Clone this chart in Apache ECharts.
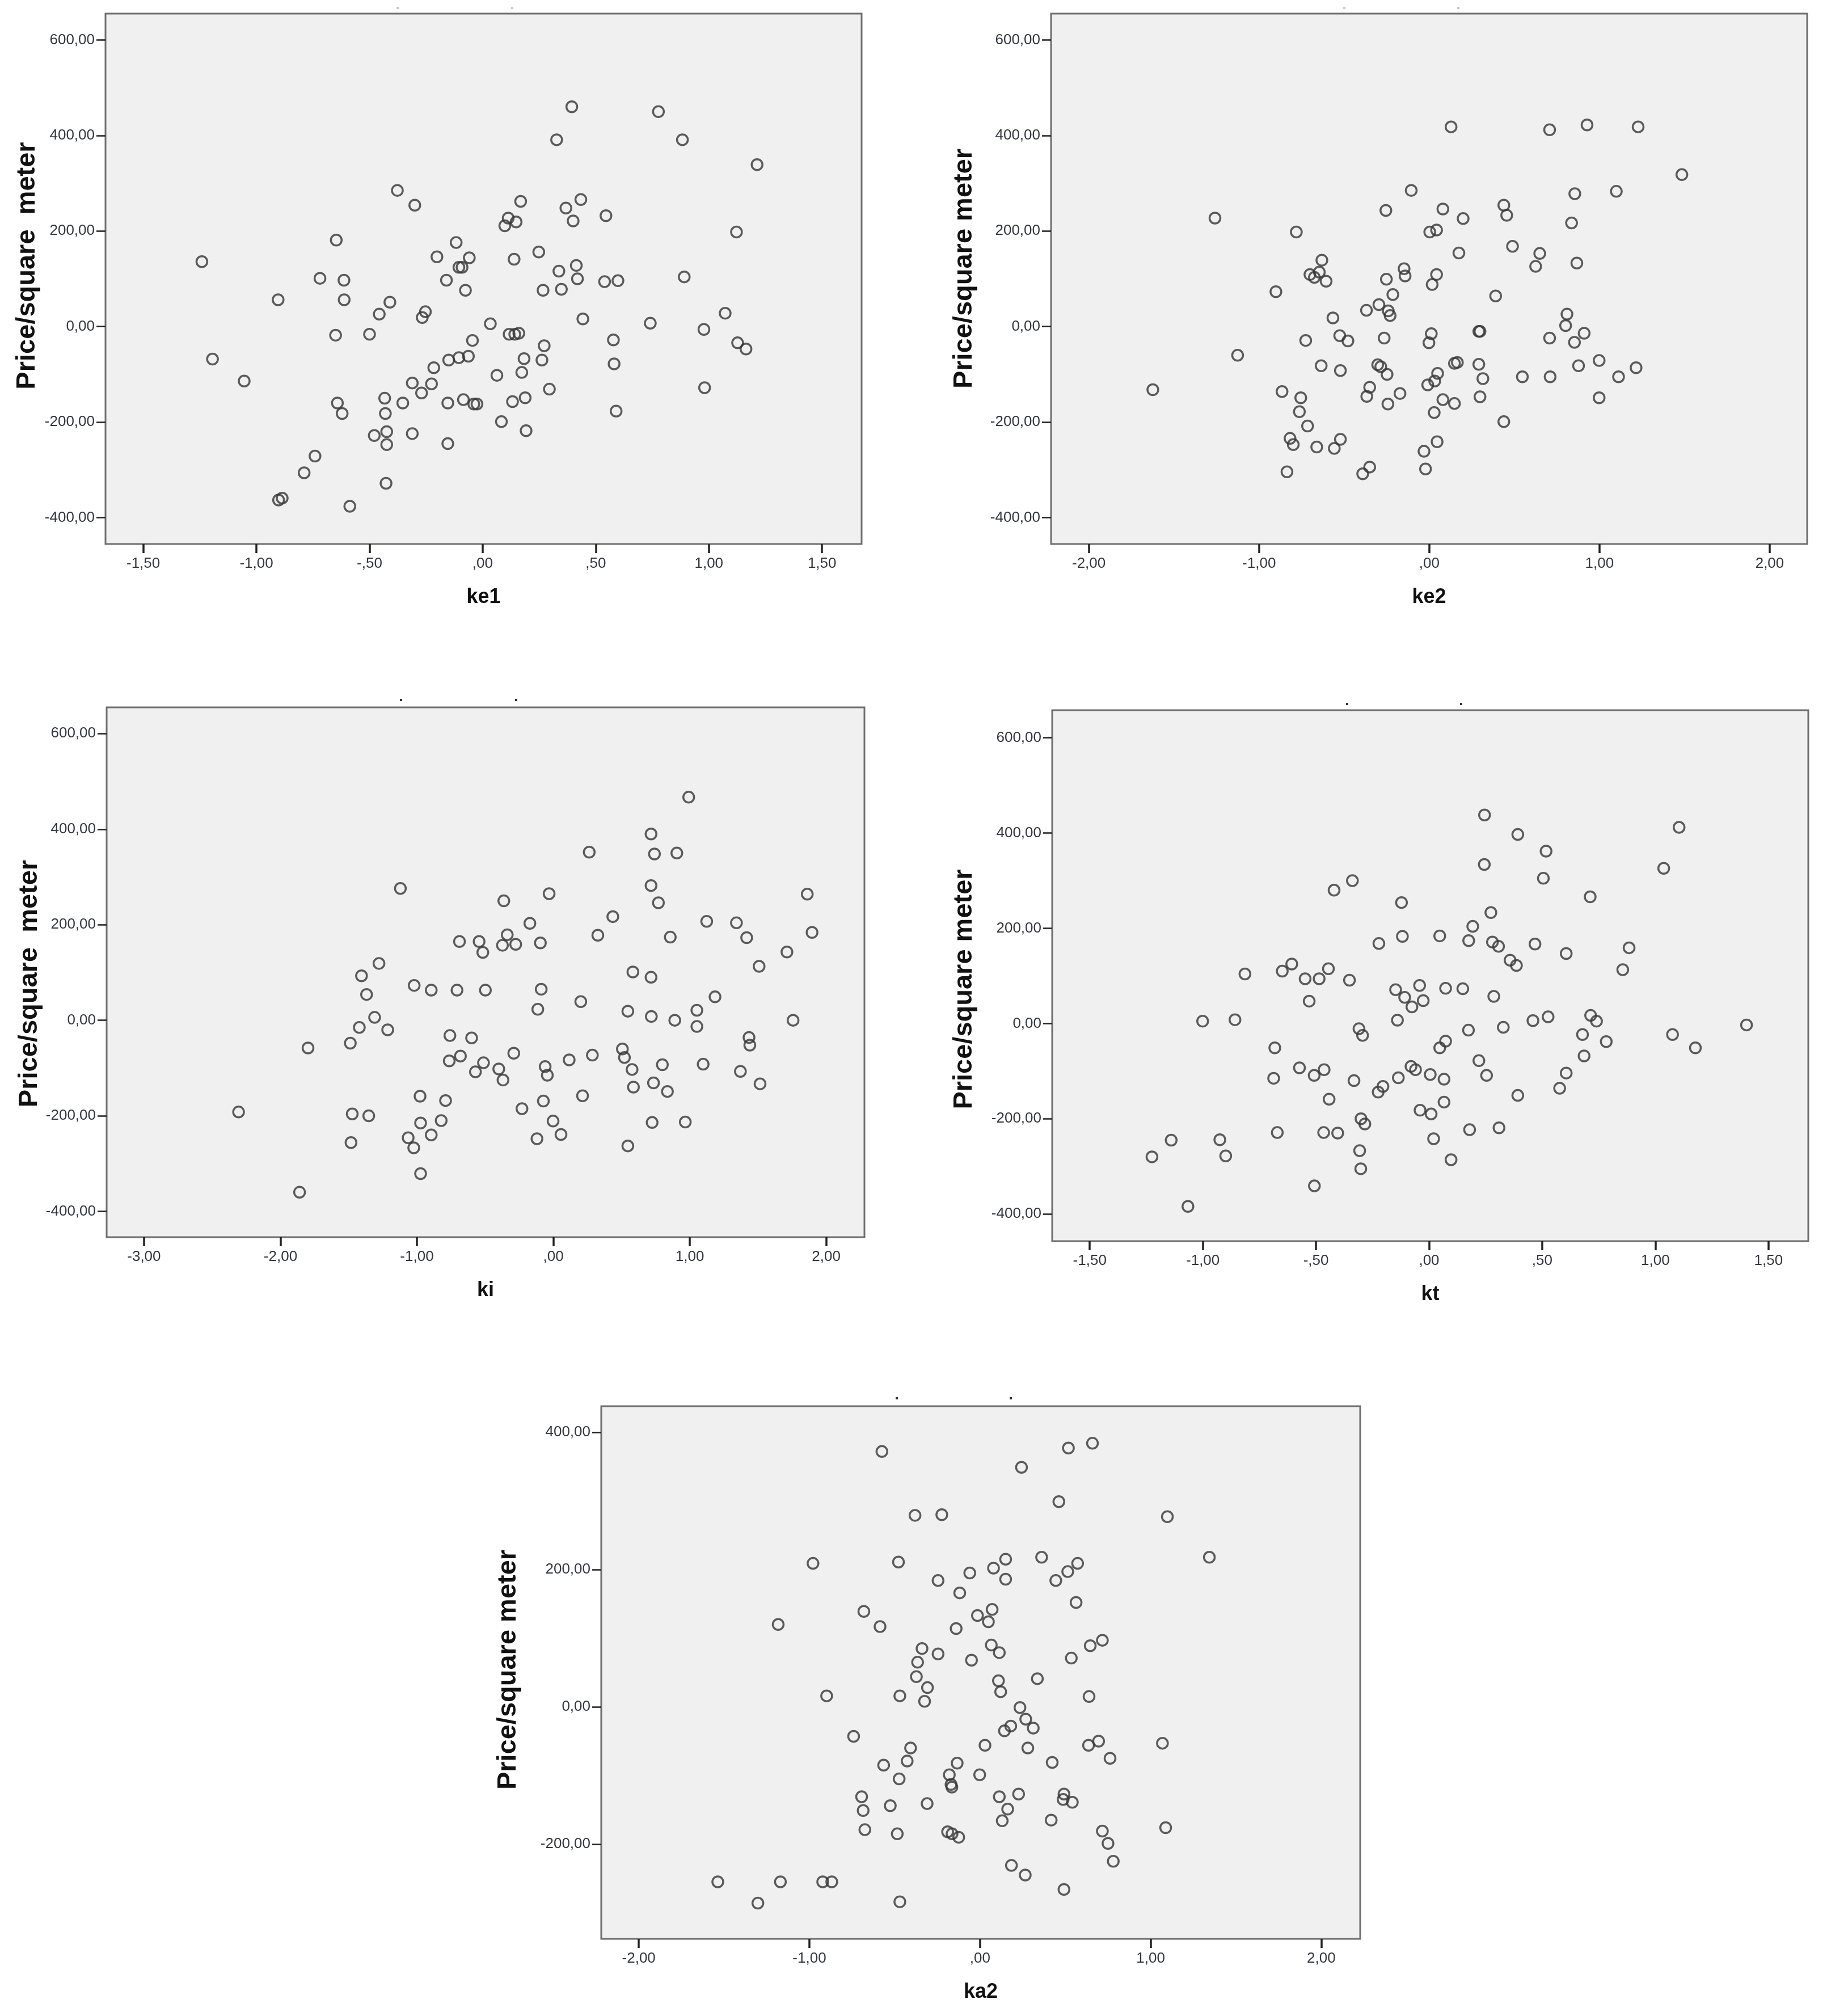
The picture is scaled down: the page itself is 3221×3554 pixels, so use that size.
<!DOCTYPE html>
<html>
<head>
<meta charset="utf-8">
<script src="https://cdn.jsdelivr.net/npm/echarts@6/dist/echarts.min.js"></script>
<style>
    html, body { margin: 0; padding: 0; background: #ffffff; }
    #main { width: 3221px; height: 3554px; }
</style>
</head>
<body>
<div id="main"></div>
<script>
// ke1
var ke1X = [-1.241,-1.194,-1.054,-0.904,-0.902,-0.886,-0.789,-0.741,-0.719,-0.647,-0.650,-0.613,-0.612,-0.642,-0.621,-0.587,-0.500,-0.479,-0.457,-0.410,
    -0.433,-0.430,-0.424,-0.424,-0.427,-0.377,-0.353,-0.300,-0.311,-0.311,-0.270,-0.267,-0.253,-0.226,-0.216,-0.202,-0.160,-0.154,-0.150,-0.154,
    -0.117,-0.105,-0.091,-0.105,-0.063,-0.059,-0.076,-0.045,-0.085,-0.039,-0.025,
    0.034,0.063,0.083,0.098,0.113,0.148,0.168,0.139,0.117,0.142,0.160,0.132,0.183,0.173,0.188,0.192,0.248,0.267,0.272,0.262,
    0.295,0.327,0.337,0.348,0.368,0.394,0.400,0.414,0.419,0.434,0.443,0.545,0.539,0.598,0.578,0.581,0.590,0.741,0.777,0.883,
    0.891,0.978,0.981,1.072,1.122,1.127,1.164,1.213];
var ke1Y = [136,-68,-114,56,-363,-359,-306,-271,101,181,-18,97,56,-160,-182,-376,-16,-228,26,51,
    -150,-182,-220,-247,-328,285,-160,254,-118,-224,-139,19,31,-120,-86,146,97,-245,-70,-160,
    176,124,124,-65,-62,144,76,-29,-153,-162,-162,
    6,-102,-199,211,227,219,262,141,-16,-16,-14,-157,-67,-96,-149,-218,156,76,-40,-70,
    -131,391,116,78,248,460,221,128,100,266,16,232,94,96,-28,-78,-177,7,450,391,
    104,-6,-128,28,198,-34,-47,339];

// ke2
var ke2X = [-1.624,-1.259,-1.126,-0.901,-0.865,-0.836,-0.818,-0.799,-0.781,-0.755,-0.763,-0.726,-0.715,-0.701,-0.675,-0.646,-0.631,-0.606,-0.661,-0.635,
    -0.566,-0.526,-0.478,-0.522,-0.558,-0.522,-0.391,-0.350,-0.369,-0.350,-0.367,-0.296,-0.303,-0.285,-0.255,-0.252,-0.214,-0.241,-0.230,-0.265,
    -0.248,-0.243,-0.172,-0.148,-0.142,-0.106,
    0.003,0.043,0.017,0.043,0.080,0.128,0.174,0.199,0.012,-0.002,-0.009,0.032,0.049,0.029,0.080,0.148,-0.031,0.046,-0.022,0.148,
    0.165,0.291,0.298,0.291,0.315,0.298,0.390,0.438,0.455,0.489,0.438,0.547,0.625,0.649,0.707,0.707,0.710,0.809,0.801,0.836,
    0.855,0.867,0.853,0.910,0.877,0.927,0.998,0.998,1.099,1.112,1.215,1.227,1.484];
var ke2Y = [-132,227,-60,73,-136,-304,-234,-247,198,-149,-178,-29,-208,109,103,114,139,95,-252,-82,
    18,-19,-30,-92,-255,-236,-308,-294,34,-127,-146,46,-80,-84,243,99,67,33,23,-24,
    -100,-162,-140,121,106,285,
    198,202,88,109,246,418,154,226,-15,-34,-122,-114,-98,-180,-153,-161,-261,-241,-298,-77,
    -75,-10,-10,-79,-109,-147,64,254,233,168,-199,-105,126,153,412,-24,-105,26,2,217,
    278,133,-33,-14,-82,422,-71,-149,283,-105,-86,418,318];

// ki
var kiX = [-2.307,-1.860,-1.798,-1.488,-1.474,-1.483,-1.422,-1.406,-1.369,-1.353,-1.310,-1.278,-1.214,-1.121,-1.064,-1.023,-1.020,-0.977,-0.973,-0.973,
    -0.895,-0.895,-0.822,-0.790,-0.758,-0.763,-0.706,-0.688,-0.681,-0.599,-0.571,-0.544,-0.517,-0.512,-0.498,
    -0.400,-0.369,-0.363,-0.373,-0.338,-0.276,-0.290,-0.230,-0.172,-0.120,-0.114,-0.095,-0.089,-0.073,-0.060,-0.044,-0.031,-0.002,0.056,0.116,
    0.201,0.214,0.263,0.286,0.326,0.436,0.506,0.521,0.546,0.546,0.577,0.583,0.587,0.716,0.716,0.716,0.718,0.724,0.734,0.741,
    0.770,0.799,0.836,0.857,0.890,0.905,0.967,0.992,1.052,1.052,1.098,1.124,1.185,1.342,1.371,1.417,1.434,1.440,1.508,1.515,
    1.712,1.757,1.861,1.896];
var kiY = [-192,-360,-58,-48,-196,-256,-15,93,54,-200,6,119,-20,276,-246,-267,73,-159,-215,-321,
    63,-240,-210,-168,-32,-85,63,165,-75,-37,-108,165,142,-89,63,
    -102,-125,250,157,179,159,-69,-185,203,-248,23,162,65,-169,-97,-115,265,-211,-239,-83,
    39,-158,352,-73,178,217,-60,-78,19,-263,-103,101,-140,390,282,90,8,-214,-131,348,
    246,-93,-149,174,0,350,-213,467,21,-13,-92,207,49,204,-107,173,-36,-52,113,-133,
    143,0,264,184];

// kt
var ktX = [-1.225,-1.140,-1.066,-1.001,-0.925,-0.899,-0.858,-0.814,-0.682,-0.687,-0.671,-0.649,-0.607,-0.573,-0.548,-0.530,-0.508,-0.464,-0.486,-0.445,
    -0.442,-0.507,-0.466,-0.420,-0.404,-0.352,-0.339,-0.332,-0.310,-0.294,-0.301,-0.284,-0.307,-0.302,-0.225,-0.204,-0.222,-0.148,-0.140,-0.136,
    -0.122,-0.118,-0.108,-0.080,-0.060,-0.076,
    -0.042,-0.040,-0.026,0.005,0.009,0.020,0.047,0.047,0.073,0.066,0.066,0.073,0.097,0.149,0.175,0.174,0.179,0.193,0.220,0.245,
    0.244,0.254,0.273,0.280,0.307,0.286,0.309,0.328,0.358,0.386,0.392,0.392,0.459,0.468,0.505,0.517,0.526,0.577,0.606,0.606,
    0.678,0.685,0.712,0.714,0.740,0.783,0.856,0.884,1.037,1.076,1.105,1.177,1.403];
var ktY = [-280,-245,-384,5,-244,-278,8,104,-51,-115,-229,110,125,-93,94,47,-109,-97,94,115,
    -159,-341,-229,280,-230,91,300,-120,-11,-25,-200,-211,-267,-305,-144,-132,168,71,7,-114,
    254,183,55,-90,-97,35,
    80,-182,48,-107,-190,-242,184,-51,-37,-117,-165,74,-286,73,174,-14,-223,204,-78,438,
    334,-109,233,171,162,57,-219,-8,133,122,397,-151,6,167,305,362,14,-136,-104,147,
    -23,-68,266,17,5,-38,113,159,326,-23,412,-51,-3];

// ka2
var ka2X = [-1.537,-1.302,-1.183,-1.170,-0.979,-0.922,-0.869,-0.899,-0.741,-0.694,-0.685,-0.675,-0.681,-0.586,-0.575,-0.565,-0.526,-0.485,-0.478,-0.474,
    -0.470,-0.470,-0.427,-0.407,-0.381,-0.373,-0.366,-0.340,-0.325,-0.308,-0.310,-0.246,-0.246,-0.224,-0.190,-0.164,-0.180,-0.170,-0.165,-0.140,
    -0.134,-0.125,-0.119,-0.060,-0.050,-0.015,
    0.049,0.071,0.079,0.150,0.150,0.066,0.113,0.108,0.121,-0.002,0.029,0.113,0.130,0.162,0.143,0.180,0.184,0.226,0.234,0.243,
    0.265,0.268,0.280,0.312,0.336,0.361,0.417,0.423,0.444,0.462,0.492,0.487,0.492,0.514,0.518,0.535,0.541,0.563,0.572,0.636,
    0.695,0.639,0.646,0.717,0.659,0.717,0.750,0.762,0.781,1.069,1.088,1.098,1.344];
var ka2Y = [-255,-286,120,-255,209,-255,-255,16,-43,-131,-151,-179,139,117,372,-85,-144,-185,211,-105,
    16,-284,-79,-60,279,44,65,85,8,28,-141,184,77,280,-182,-185,-99,-113,-117,114,
    -82,-190,166,195,68,133,
    124,142,202,215,186,90,79,38,22,-99,-56,-131,-166,-149,-35,-28,-231,-127,-1,349,
    -245,-18,-60,-31,41,218,-165,-81,184,299,-127,-135,-266,197,377,71,-139,152,209,-56,
    -50,15,89,97,384,-181,-199,-75,-225,-53,-176,277,218];

// tick values
var xTicksHalf = [-1.5, -1, -0.5, 0, 0.5, 1, 1.5];
var xTicksTwo = [-2, -1, 0, 1, 2];
var xTicksKi = [-3, -2, -1, 0, 1, 2];
var yTicksPrice = [-400, -200, 0, 200, 400, 600];
var yTicksKa2 = [-200, 0, 200, 400];

function fmtX(v) {
    var s = Math.abs(v).toFixed(2).replace('.', ',');
    if (Math.abs(v) < 1) s = s.replace(/^0/, '');
    return (v < 0 ? '-' : '') + s;
}
function fmtY(v) {
    return v.toFixed(2).replace('.', ',');
}
function zip(xs, ys) {
    var out = [];
    for (var i = 0; i < xs.length; i++) out.push([xs[i], ys[i]]);
    return out;
}

// yPad: shifts the rotated y title along the axis (left = up, right = down)
var panels = [
    {xs: ke1X, ys: ke1Y, xName: 'ke1', yName: 'Price/square  meter', grid: {left: 186, top: 24, width: 1333, height: 935},
        xMin: -1.667, xMax: 1.675, xTicks: xTicksHalf, yMin: -455, yMax: 655, yTicks: yTicksPrice, yGap: 114, yPad: [0, 0, 0, 46]},
    {xs: ke2X, ys: ke2Y, xName: 'ke2', yName: 'Price/square meter', grid: {left: 1853, top: 24, width: 1333, height: 935},
        xMin: -2.222, xMax: 2.22, xTicks: xTicksTwo, yMin: -455, yMax: 655, yTicks: yTicksPrice, yGap: 129, yPad: [0, 0, 0, 36]},
    {xs: kiX, ys: kiY, xName: 'ki', yName: 'Price/square  meter', grid: {left: 188, top: 1247, width: 1336, height: 934},
        xMin: -3.274, xMax: 2.28, xTicks: xTicksKi, yMin: -454, yMax: 655, yTicks: yTicksPrice, yGap: 112, yPad: [0, 40, 0, 0]},
    {xs: ktX, ys: ktY, xName: 'kt', yName: 'Price/square meter', grid: {left: 1855, top: 1252, width: 1333, height: 936},
        xMin: -1.666, xMax: 1.676, xTicks: xTicksHalf, yMin: -457, yMax: 658, yTicks: yTicksPrice, yGap: 131, yPad: [0, 48, 0, 0]},
    {xs: ka2X, ys: ka2Y, xName: 'ka2', yName: 'Price/square meter', grid: {left: 1060, top: 2479, width: 1338, height: 939},
        xMin: -2.22, xMax: 2.228, xTicks: xTicksTwo, yMin: -338, yMax: 438, yTicks: yTicksKa2, yGap: 140, yPad: [0, 0, 0, 10]}
];

var labelFont = {fontFamily: 'Liberation Sans', fontSize: 26, color: '#33373d'};

var grids = [], xAxes = [], yAxes = [], series = [];
panels.forEach(function (p, i) {
    grids.push({
        left: p.grid.left, top: p.grid.top, width: p.grid.width, height: p.grid.height,
        show: true, backgroundColor: '#f0f0f0', borderColor: '#6e6e6e', borderWidth: 3
    });
    xAxes.push({
        type: 'value', gridIndex: i, min: p.xMin, max: p.xMax,
        name: p.xName, nameLocation: 'middle', nameGap: 76,
        nameTextStyle: {fontFamily: 'Liberation Sans', fontSize: 36, fontWeight: 'bold', color: '#111'},
        axisLine: {show: false, onZero: false},
        splitLine: {show: false},
        axisTick: {show: true, length: 16, customValues: p.xTicks, lineStyle: {color: '#222', width: 3.5}},
        axisLabel: Object.assign({customValues: p.xTicks, margin: 22, formatter: fmtX}, labelFont)
    });
    yAxes.push({
        type: 'value', gridIndex: i, min: p.yMin, max: p.yMax,
        name: p.yName, nameLocation: 'middle', nameGap: p.yGap,
        nameTextStyle: {fontFamily: 'Liberation Sans', fontSize: 47, fontWeight: 'bold', color: '#111', padding: p.yPad},
        axisLine: {show: false, onZero: false},
        splitLine: {show: false},
        axisTick: {show: true, length: 16, customValues: p.yTicks, lineStyle: {color: '#222', width: 2.5}},
        axisLabel: Object.assign({customValues: p.yTicks, margin: 19, formatter: fmtY}, labelFont)
    });
    series.push({
        type: 'scatter', xAxisIndex: i, yAxisIndex: i,
        symbol: 'circle', symbolSize: 19,
        itemStyle: {color: 'rgba(0,0,0,0)', borderColor: '#363636', borderWidth: 3.5},
        emphasis: {disabled: true},
        silent: true,
        data: zip(p.xs, p.ys)
    });
});

// small leftover marks above the plots
var marks = [[701, 14, '#c8c8c8'], [903, 14, '#c8c8c8'], [2370, 14, '#c8c8c8'], [2571, 14, '#c8c8c8'],
    [707, 1234, '#333'], [910, 1234, '#333'], [2375, 1241, '#333'], [2576, 1241, '#333'],
    [1581, 2465, '#333'], [1782, 2465, '#333']];
var graphics = marks.map(function (m) {
    return {type: 'rect', shape: {x: m[0] - 2, y: m[1] - 2, width: 4, height: 4}, style: {fill: m[2]}, silent: true};
});

var chart = echarts.init(document.getElementById('main'), null, {renderer: 'canvas'});
chart.setOption({
    backgroundColor: '#ffffff',
    animation: false,
    grid: grids,
    xAxis: xAxes,
    yAxis: yAxes,
    series: series,
    graphic: graphics
});
</script>
</body>
</html>
